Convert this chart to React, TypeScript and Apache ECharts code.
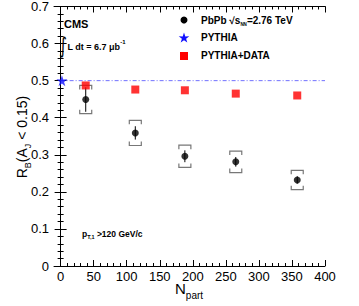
import React, { useEffect, useRef } from "react";
import * as echarts from "echarts";

// Data
const npart = [38, 113, 188, 265, 358];
const pbpb = [0.449, 0.359, 0.296, 0.281, 0.232];
const pbpbStat = [0.033, 0.018, 0.016, 0.013, 0.01];
const pbpbSyst = [0.038, 0.034, 0.03, 0.029, 0.026];
const pythiaData = [0.487, 0.476, 0.474, 0.465, 0.46];
const pythiaX = [2];
const pythiaY = [0.5];
const refLineX = [0, 400];
const refLineY = [0.5, 0.5];
const xMajorTicks = [0, 50, 100, 150, 200, 250, 300, 350, 400];
const xMinorTicks = [
  0, 10, 20, 30, 40, 50, 60, 70, 80, 90, 100, 110, 120, 130, 140, 150, 160, 170, 180, 190, 200,
  210, 220, 230, 240, 250, 260, 270, 280, 290, 300, 310, 320, 330, 340, 350, 360, 370, 380, 390, 400,
];

const FONT = "Liberation Sans, Arial, Helvetica, sans-serif";
const STAR =
  "path://M50 0 L61.8 35.4 L97.6 34.5 L68.2 56.3 L79.4 90.5 L50 69.5 L20.6 90.5 L31.8 56.3 L2.4 34.5 L38.2 35.4 Z";

export default function App() {
  const ref = useRef<HTMLDivElement>(null);
  useEffect(() => {
    const chart = echarts.init(ref.current!, null, { renderer: "svg" });
    const axisLine = { show: true, lineStyle: { color: "#000", width: 1 } };
    const baseX = { type: "value", min: -10, max: 400, splitLine: { show: false } };
    const option: any = {
      animation: false,
      backgroundColor: "#fff",
      grid: { left: 54, right: 34, top: 5, bottom: 40 },
      xAxis: [
        {
          ...baseX,
          position: "bottom",
          axisLine,
          axisTick: { show: true, inside: true, length: 6, customValues: xMajorTicks, lineStyle: { color: "#000" } },
          axisLabel: { show: true, customValues: xMajorTicks, fontSize: 13, color: "#000", fontFamily: FONT, margin: 4 },
        },
        {
          ...baseX,
          position: "bottom",
          axisLine: { show: false },
          axisTick: { show: true, inside: true, length: 3, customValues: xMinorTicks, lineStyle: { color: "#000" } },
          axisLabel: { show: false },
        },
        {
          ...baseX,
          position: "top",
          axisLine,
          axisTick: { show: true, inside: true, length: 6, customValues: xMajorTicks, lineStyle: { color: "#000" } },
          axisLabel: { show: false },
        },
        {
          ...baseX,
          position: "top",
          axisLine: { show: false },
          axisTick: { show: true, inside: true, length: 3, customValues: xMinorTicks, lineStyle: { color: "#000" } },
          axisLabel: { show: false },
        },
      ],
      yAxis: [
        {
          type: "value",
          min: 0,
          max: 0.7,
          interval: 0.1,
          position: "left",
          axisLine,
          splitLine: { show: false },
          axisTick: { show: true, inside: true, length: 6, lineStyle: { color: "#000" } },
          minorTick: { show: true, splitNumber: 5, length: 3, lineStyle: { color: "#000" } },
          axisLabel: { fontSize: 13, color: "#000", fontFamily: FONT, margin: 5 },
        },
        {
          type: "value",
          min: 0,
          max: 0.7,
          interval: 0.1,
          position: "right",
          axisLine,
          splitLine: { show: false },
          axisTick: { show: true, inside: true, length: 6, lineStyle: { color: "#000" } },
          minorTick: { show: true, splitNumber: 5, length: 3, lineStyle: { color: "#000" } },
          axisLabel: { show: false },
        },
      ],
      series: [
        {
          type: "line",
          data: refLineX.map((x, i) => [x, refLineY[i]]),
          symbol: "none",
          lineStyle: { color: "#7070ff", width: 1, type: [4, 2, 1, 2] },
          z: 1,
        },
        {
          type: "custom",
          data: npart.map((x, i) => [x, pbpb[i], pbpbStat[i], pbpbSyst[i]]),
          renderItem: (params: any, api: any) => {
            const x = api.value(0);
            const y = api.value(1);
            const st = api.value(2);
            const sy = api.value(3);
            const c = api.coord([x, y]);
            const sT = api.coord([x, y + st]);
            const sB = api.coord([x, y - st]);
            const bT = api.coord([x, y + sy]);
            const bB = api.coord([x, y - sy]);
            const w = 6;
            const t = 4;
            const gray = { stroke: "#777", lineWidth: 1.2, fill: "none" };
            return {
              type: "group",
              children: [
                { type: "line", shape: { x1: c[0], y1: sT[1], x2: c[0], y2: sB[1] }, style: { stroke: "#000", lineWidth: 1 } },
                {
                  type: "polyline",
                  shape: { points: [[c[0] - w, bT[1] + t], [c[0] - w, bT[1]], [c[0] + w, bT[1]], [c[0] + w, bT[1] + t]] },
                  style: gray,
                },
                {
                  type: "polyline",
                  shape: { points: [[c[0] - w, bB[1] - t], [c[0] - w, bB[1]], [c[0] + w, bB[1]], [c[0] + w, bB[1] - t]] },
                  style: gray,
                },
              ],
            };
          },
          z: 2,
        },
        {
          type: "scatter",
          data: npart.map((x, i) => [x, pythiaData[i]]),
          symbol: "rect",
          symbolSize: 8,
          itemStyle: { color: "#ff0000" },
          z: 3,
        },
        {
          type: "scatter",
          data: npart.map((x, i) => [x, pbpb[i]]),
          symbol: "circle",
          symbolSize: 7,
          itemStyle: { color: "#000" },
          z: 4,
        },
        {
          type: "scatter",
          data: pythiaX.map((x, i) => [x, pythiaY[i]]),
          symbol: STAR,
          symbolSize: 11,
          itemStyle: { color: "#1010ff" },
          z: 5,
        },
      ],
      graphic: [
        {
          type: "text",
          x: 20,
          y: 137,
          rotation: Math.PI / 2,
          style: {
            text: "{m|R}{s|B}{m|(A}{s|J}{m| < 0.15)}",
            align: "center",
            verticalAlign: "middle",
            rich: {
              m: { fontSize: 14, fontFamily: FONT, fill: "#000", lineHeight: 18, verticalAlign: "bottom" },
              s: { fontSize: 9, fontFamily: FONT, fill: "#000", lineHeight: 12, verticalAlign: "bottom", padding: [0, 0, -3, 0] },
            },
          },
        },
        {
          type: "text",
          x: 175,
          y: 280,
          style: {
            text: "{m|N}{s|part}",
            rich: {
              m: { fontSize: 15, fontFamily: FONT, fill: "#000", lineHeight: 16, verticalAlign: "bottom" },
              s: { fontSize: 10, fontFamily: FONT, fill: "#000", lineHeight: 11, verticalAlign: "bottom", padding: [0, 0, -4, 0] },
            },
          },
        },
        {
          type: "text",
          x: 64,
          y: 18,
          style: { text: "CMS", fontSize: 11, fontWeight: "bold", fontFamily: FONT, fill: "#000" },
        },
        {
          type: "text",
          x: 59,
          y: 35,
          scaleY: 1.45,
          style: { text: "∫", fontSize: 15, fontFamily: "DejaVu Sans", fill: "#000" },
        },
        {
          type: "text",
          x: 67.5,
          y: 39,
          style: {
            text: "{m|L dt = 6.7 μb}{u|-1}",
            rich: {
              m: { fontSize: 9, fontWeight: "bold", fontFamily: FONT, fill: "#000", lineHeight: 12, verticalAlign: "bottom" },
              u: { fontSize: 6, fontWeight: "bold", fontFamily: FONT, fill: "#000", lineHeight: 12, verticalAlign: "top" },
            },
          },
        },
        {
          type: "text",
          x: 82,
          y: 227,
          style: {
            text: "{m|p}{s|T,1}{m| >120 GeV/c}",
            rich: {
              m: { fontSize: 8.5, fontWeight: "bold", fontFamily: FONT, fill: "#000", lineHeight: 11, verticalAlign: "bottom" },
              s: { fontSize: 5.5, fontWeight: "bold", fontFamily: FONT, fill: "#000", lineHeight: 8, verticalAlign: "bottom", padding: [0, 0, -2, 0] },
            },
          },
        },
        { type: "circle", shape: { cx: 184, cy: 20, r: 3.5 }, style: { fill: "#000" } },
        {
          type: "text",
          x: 201,
          y: 13,
          style: {
            text: "{m|PbPb √s}{s|NN}{m|=2.76 TeV}",
            rich: {
              m: { fontSize: 10, fontWeight: "bold", fontFamily: FONT, fill: "#000", lineHeight: 12, verticalAlign: "bottom" },
              s: { fontSize: 4.5, fontWeight: "bold", fontFamily: FONT, fill: "#000", lineHeight: 8, verticalAlign: "bottom", padding: [0, 0, -2, 0] },
            },
          },
        },
        {
          type: "text",
          x: 201,
          y: 32,
          style: { text: "PYTHIA", fontSize: 10, fontWeight: "bold", fontFamily: FONT, fill: "#000" },
        },
        {
          type: "text",
          x: 201,
          y: 50,
          style: { text: "PYTHIA+DATA", fontSize: 10, fontWeight: "bold", fontFamily: FONT, fill: "#000" },
        },
        { type: "rect", shape: { x: 180, y: 52, width: 8, height: 8 }, style: { fill: "#ff0000" } },
        {
          type: "polygon",
          shape: {
            points: [
              [184, 32.5], [185.3, 36.4], [189.3, 36.3], [186.1, 38.7], [187.3, 42.5],
              [184, 40.2], [180.7, 42.5], [181.9, 38.7], [178.7, 36.3], [182.7, 36.4],
            ],
          },
          style: { fill: "#1010ff" },
        },
      ],
    };
    chart.setOption(option);
    return () => chart.dispose();
  }, []);
  return <div ref={ref} style={{ position: "absolute", left: 0, top: 0, width: 359, height: 306 }} />;
}
